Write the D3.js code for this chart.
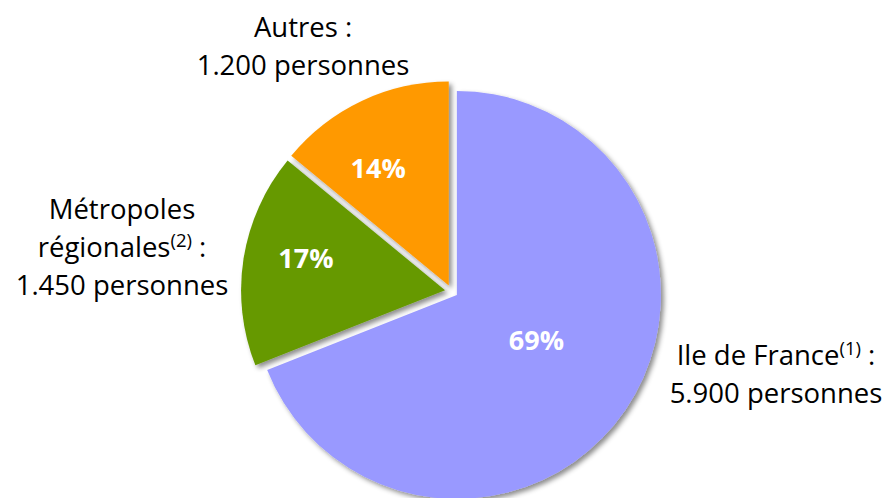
<!DOCTYPE html>
<html>
<head>
<meta charset="utf-8">
<script src="https://cdn.jsdelivr.net/npm/d3@7"></script>
<style>
  body { margin: 0; background: #fff; }
  svg { display: block; }
</style>
</head>
<body>
<div id="container"></div>
<script>
/* DATA */
const categories = ["Ile de France", "Métropoles régionales", "Autres"];
const persons = [5900, 1450, 1200];
const notes = ["(1)", "(2)", null];

/* CONSTANTS AND LAYOUT */
const width = 888,
  height = 498,
  cx = 451.5,
  cy = 291.3,
  radius = 204,
  explode = 6.5,
  fontFamily = "'Open Sans', 'Noto Sans', sans-serif";

const colors = ["#9999FF", "#669900", "#FF9900"];

// percentage label placement: angle nudge (deg) + fraction of radius
const pctPlace = [{ a: -4.3, k: 0.45 }, { a: 4, k: 0.70 }, { a: -5.8, k: 0.67 }];
// outside label: offset from pie center (first baseline) and line split
const calloutPlace = [
  { dx: 324.5, dy: 73.7 },
  { dx: -329.5, dy: -72.3 },
  { dx: -148.5, dy: -254.3 }
];
const lineHeight = 37.8;

const fmtPct = d3.format(".0%");
const fr = d3.formatLocale({ decimal: ",", thousands: ".", grouping: [3], currency: ["", " €"] });
const fmtNum = fr.format(",");

const total = d3.sum(persons);
const data = categories.map((c, i) => ({ name: c, value: persons[i], note: notes[i], color: colors[i] }));

/* SVG */
const svg = d3.select("#container")
  .append("svg")
  .attr("width", width)
  .attr("height", height);

const defs = svg.append("defs");
defs.append("filter")
  .attr("id", "shadow")
  .attr("x", "-20%").attr("y", "-20%")
  .attr("width", "140%").attr("height", "140%")
  .append("feDropShadow")
  .attr("dx", 3).attr("dy", 3)
  .attr("stdDeviation", 2.5)
  .attr("flood-color", "#000")
  .attr("flood-opacity", 0.45);

const pie = d3.pie().sort(null).value(d => d.value);
const arc = d3.arc().innerRadius(0).outerRadius(radius);
const arcs = pie(data);

const mid = d => (d.startAngle + d.endAngle) / 2;

/* SLICES */
const g = svg.append("g").attr("transform", `translate(${cx},${cy})`);

const slices = g.selectAll(".slice")
  .data(arcs)
  .join("g")
  .attr("class", "slice")
  .attr("transform", d => `translate(${explode * Math.sin(mid(d))},${-explode * Math.cos(mid(d))})`);

slices.append("path")
  .attr("d", arc)
  .attr("fill", d => d.data.color)
  .attr("filter", "url(#shadow)");

/* PERCENT LABELS */
slices.append("text")
  .attr("transform", (d, i) => {
    const a = mid(d) + pctPlace[i].a * Math.PI / 180;
    const r = radius * pctPlace[i].k;
    return `translate(${r * Math.sin(a)},${-r * Math.cos(a)})`;
  })
  .attr("text-anchor", "middle")
  .attr("dy", "0.36em")
  .attr("font-family", fontFamily)
  .attr("font-weight", "bold")
  .attr("font-size", 27)
  .attr("fill", "#fff")
  .text(d => fmtPct(d.value / total));

/* CALLOUT LABELS */
const callouts = g.selectAll(".callout")
  .data(arcs)
  .join("text")
  .attr("class", "callout")
  .attr("text-anchor", "middle")
  .attr("font-family", fontFamily)
  .attr("font-size", 27.5)
  .attr("fill", "#000");

callouts.each(function (d, i) {
  const t = d3.select(this);
  const p = calloutPlace[i];
  let lines;
  if (d.data.name === "Métropoles régionales") {
    lines = [["Métropoles"], ["régionales", d.data.note, " :"]];
  } else {
    lines = [[d.data.name, d.data.note, " :"]];
  }
  lines.push([fmtNum(d.data.value) + " personnes"]);

  lines.forEach((parts, li) => {
    const y = p.dy + li * lineHeight;
    parts.forEach((s, pi) => {
      if (s == null) return;
      const ts = t.append("tspan").text(s);
      if (pi === 0) ts.attr("x", p.dx).attr("y", y);
      if (pi === 1) ts.attr("font-size", 18.5).attr("dy", -10);
      if (pi === 2) ts.attr("dy", parts[1] ? 10 : 0);
    });
  });
});
</script>
</body>
</html>
